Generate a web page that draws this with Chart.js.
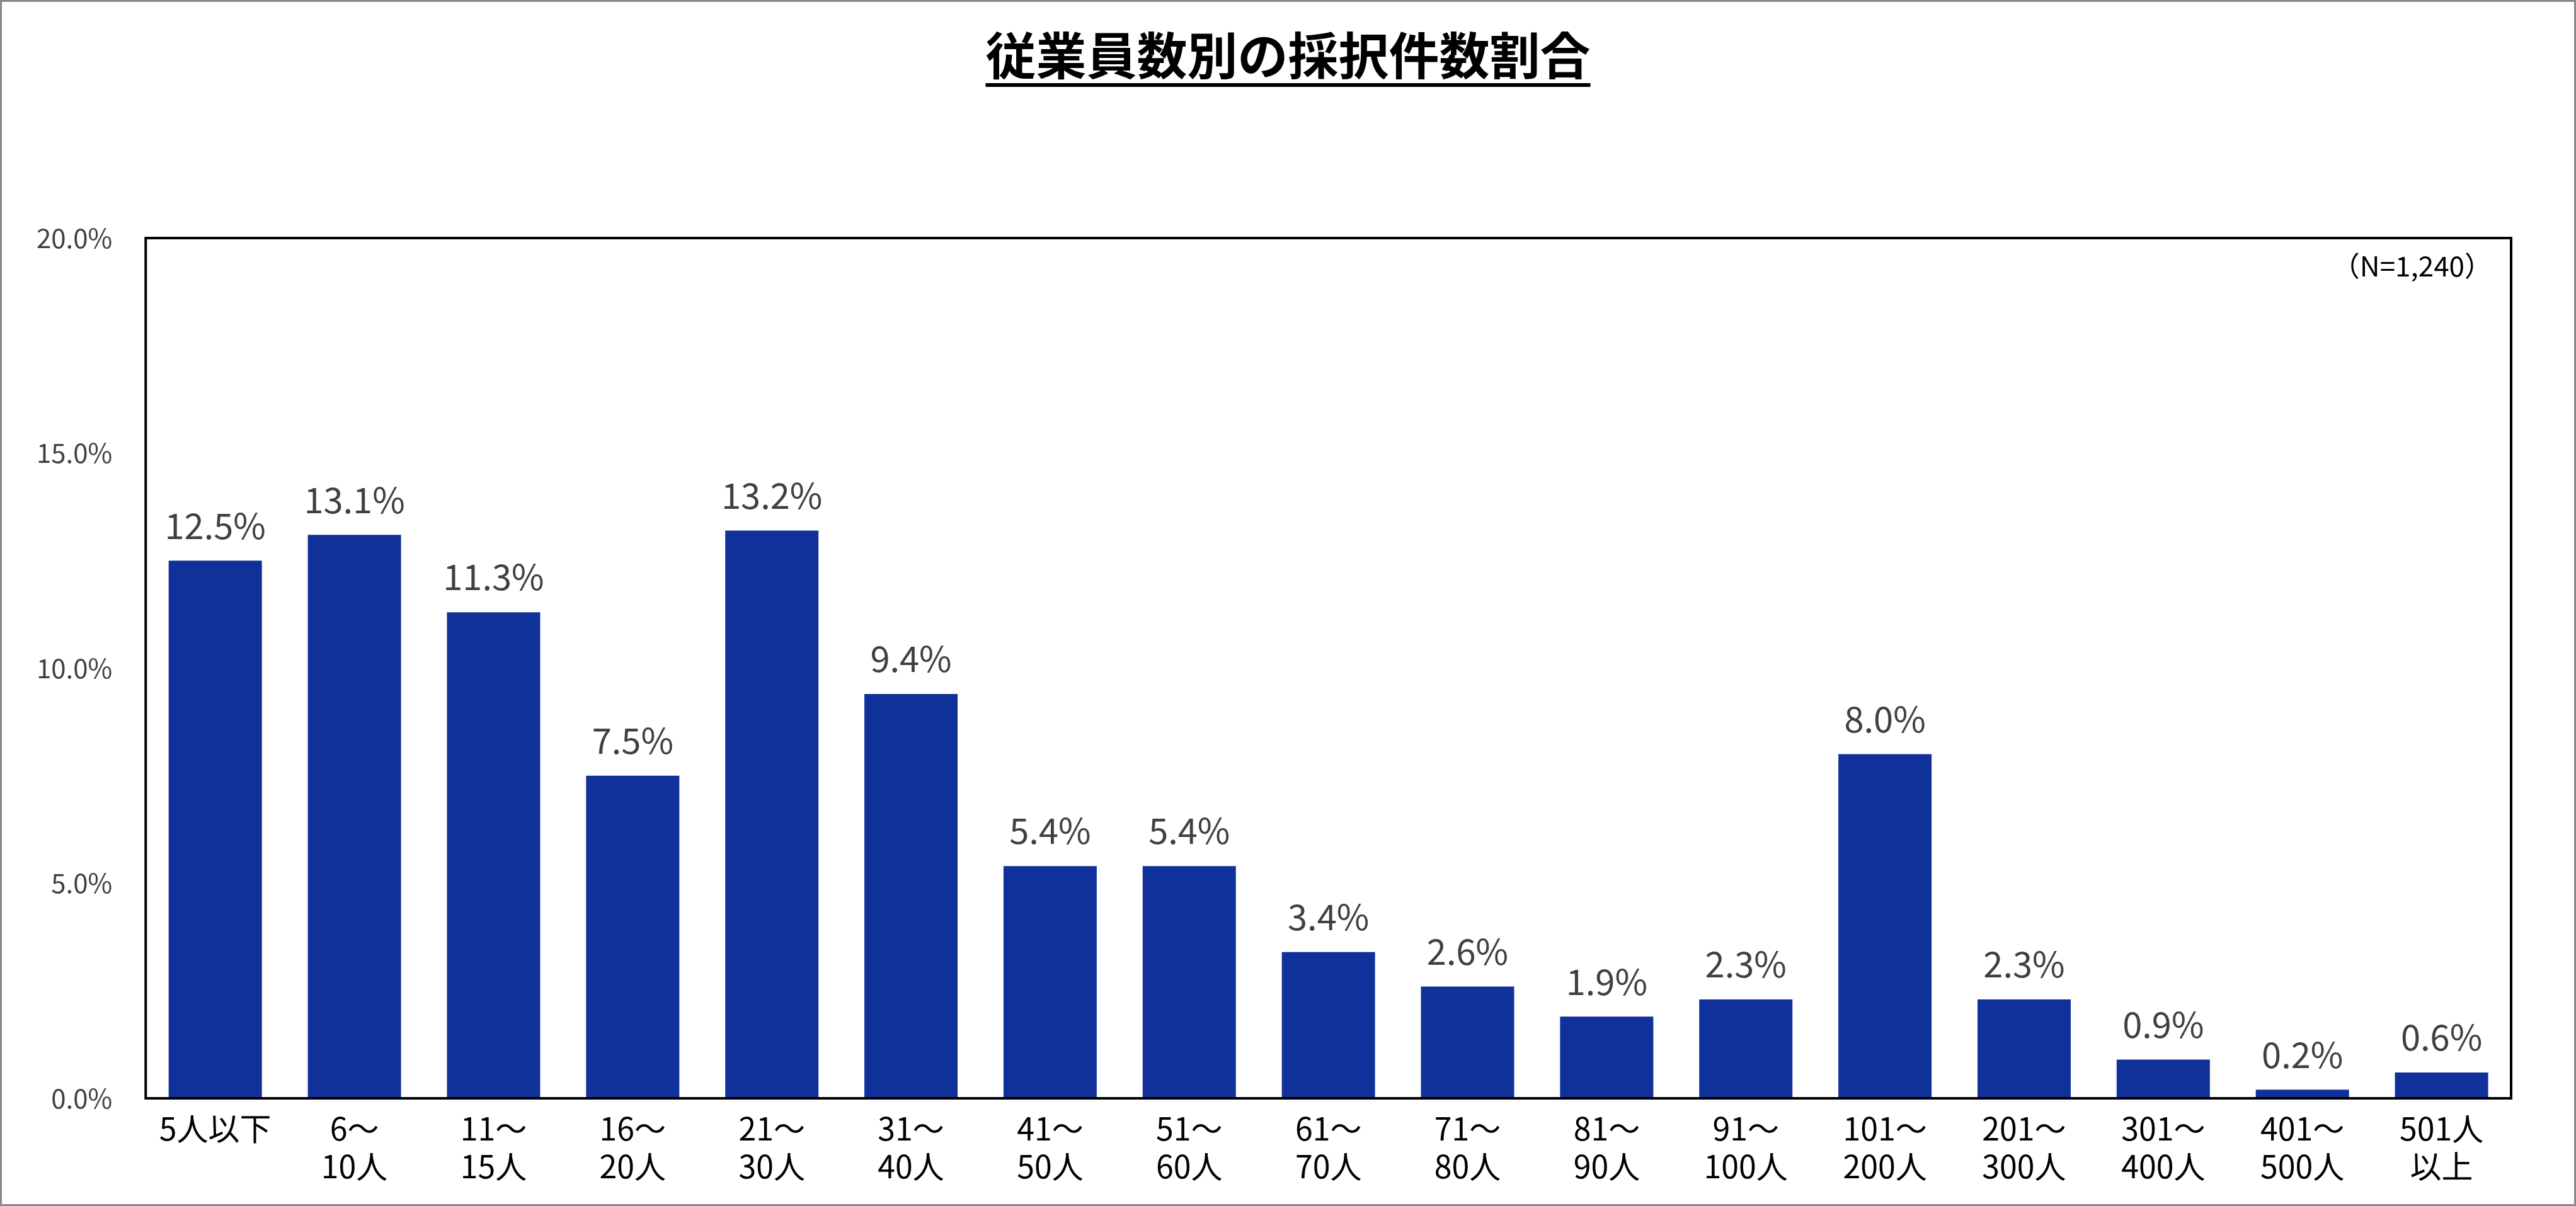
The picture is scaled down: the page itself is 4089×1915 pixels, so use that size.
<!DOCTYPE html>
<html><head><meta charset="utf-8">
<script src="https://cdn.jsdelivr.net/npm/chart.js@4"></script>
<style>html,body{margin:0;padding:0;background:#fff}#w{width:4089px;height:1915px;position:relative;box-sizing:border-box;border:3px solid #888}</style>
</head><body><div id="w"><canvas id="c" width="4083" height="1909"></canvas></div>
<script>
const title = "従業員数別の採択件数割合";
const note = "（N=1,240）";
const categories = [["5人以下"],["6～","10人"],["11～","15人"],["16～","20人"],["21～","30人"],["31～","40人"],["41～","50人"],["51～","60人"],["61～","70人"],["71～","80人"],["81～","90人"],["91～","100人"],["101～","200人"],["201～","300人"],["301～","400人"],["401～","500人"],["501人","以上"]];
const values = [12.5,13.1,11.3,7.5,13.2,9.4,5.4,5.4,3.4,2.6,1.9,2.3,8.0,2.3,0.9,0.2,0.6];
const yTicks = [0,5,10,15,20];
const F = '"Noto Sans CJK JP","Noto Sans",sans-serif';
const deco = {id:'deco',afterDraw(ch){
  const c=ch.ctx,a=ch.chartArea;
  c.save();
  c.strokeStyle='#000';c.lineWidth=4;c.strokeRect(a.left,a.top,a.right-a.left,a.bottom-a.top);
  c.fillStyle='#404040';c.font='56px '+F;c.textAlign='center';c.textBaseline='bottom';
  ch.getDatasetMeta(0).data.forEach((b,i)=>c.fillText(values[i].toFixed(1)+'%',b.x,b.y-28));
  c.fillStyle='#000';c.font='44px '+F;c.textAlign='right';c.textBaseline='top';
  c.fillText(note,a.right-30,a.top+22);
  c.font='bold 80px '+F;c.textAlign='center';c.textBaseline='alphabetic';
  const cx=ch.width/2;c.fillText(title,cx,115);
  const w=c.measureText(title).width;c.lineWidth=6;c.beginPath();c.moveTo(cx-w/2,132);c.lineTo(cx+w/2,132);c.stroke();
  c.restore();}};
new Chart(document.getElementById('c'),{type:'bar',
 data:{labels:categories,datasets:[{data:values,backgroundColor:'#10309A',categoryPercentage:1,barPercentage:0.67}]},
 options:{responsive:false,animation:false,devicePixelRatio:1,
  layout:{padding:{top:375,right:100,left:10,bottom:20}},
  plugins:{legend:{display:false},tooltip:{enabled:false}},
  scales:{
   x:{grid:{display:false},border:{display:false},ticks:{color:'#000',font:{family:F,size:50},maxRotation:0,autoSkip:false,padding:10}},
   y:{min:0,max:20,grid:{display:false},border:{display:false},afterBuildTicks(s){s.ticks=yTicks.map(v=>({value:v}));},
      ticks:{color:'#404040',font:{family:F,size:42},padding:45,callback:v=>v.toFixed(1)+'%'}}}},
 plugins:[deco]});
</script></body></html>
